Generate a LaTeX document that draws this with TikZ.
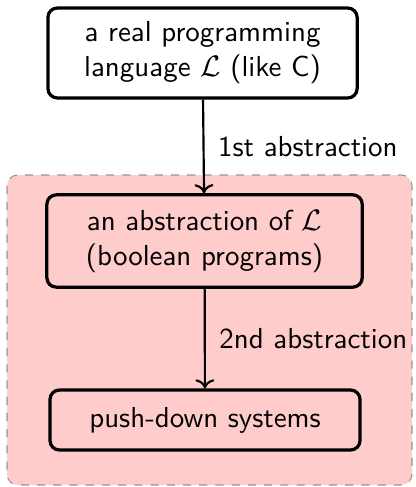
\documentclass[tikz,border=0pt]{standalone}
\usepackage{tikz}
\usetikzlibrary{arrows.meta,positioning,backgrounds}
\definecolor{SoftRed}{RGB}{255,204,204}
\definecolor{Frame}{RGB}{150,150,150}
\renewcommand{\familydefault}{\sfdefault}
\newcommand{\diagfont}{\sffamily\fontsize{10.7}{12.9}\selectfont}
\tikzset{
  box/.style={draw=black,very thick,rounded corners=3.5pt,fill=white,align=center,font=\diagfont,minimum height=.86cm,inner xsep=7pt,inner ysep=5pt},
  level/.style={box,fill=SoftRed},
  absarrow/.style={->,thick,draw=black},
  steplabel/.style={font=\diagfont,right,inner sep=5pt},
  zone/.style={draw=Frame,dashed,fill=SoftRed,rounded corners=4pt}
}
\begin{document}
\begin{tikzpicture}[x=1cm,y=1cm]
  \useasboundingbox (0,0) rectangle (5.395,-6.331);
  \node[box,minimum width=4.02cm,minimum height=1.17cm] (real) at (2.633,-0.689) {a real programming\\language $\mathcal{L}$ (like C)};
  \node[level,minimum width=4.1cm,minimum height=1.2cm] (bool) at (2.659,-3.133) {an abstraction of $\mathcal{L}$\\(boolean programs)};
  \node[level,minimum width=4.03cm,minimum height=.78cm] (pds) at (2.665,-5.46) {push-down systems};
  \begin{scope}[on background layer]
    \draw[zone] (0.091,-2.275) rectangle (5.356,-6.305);
  \end{scope}
  \draw[absarrow] (real) -- node[steplabel] {1st abstraction} (bool);
  \draw[absarrow] (bool) -- node[steplabel] {2nd abstraction} (pds);
\end{tikzpicture}
\end{document}
